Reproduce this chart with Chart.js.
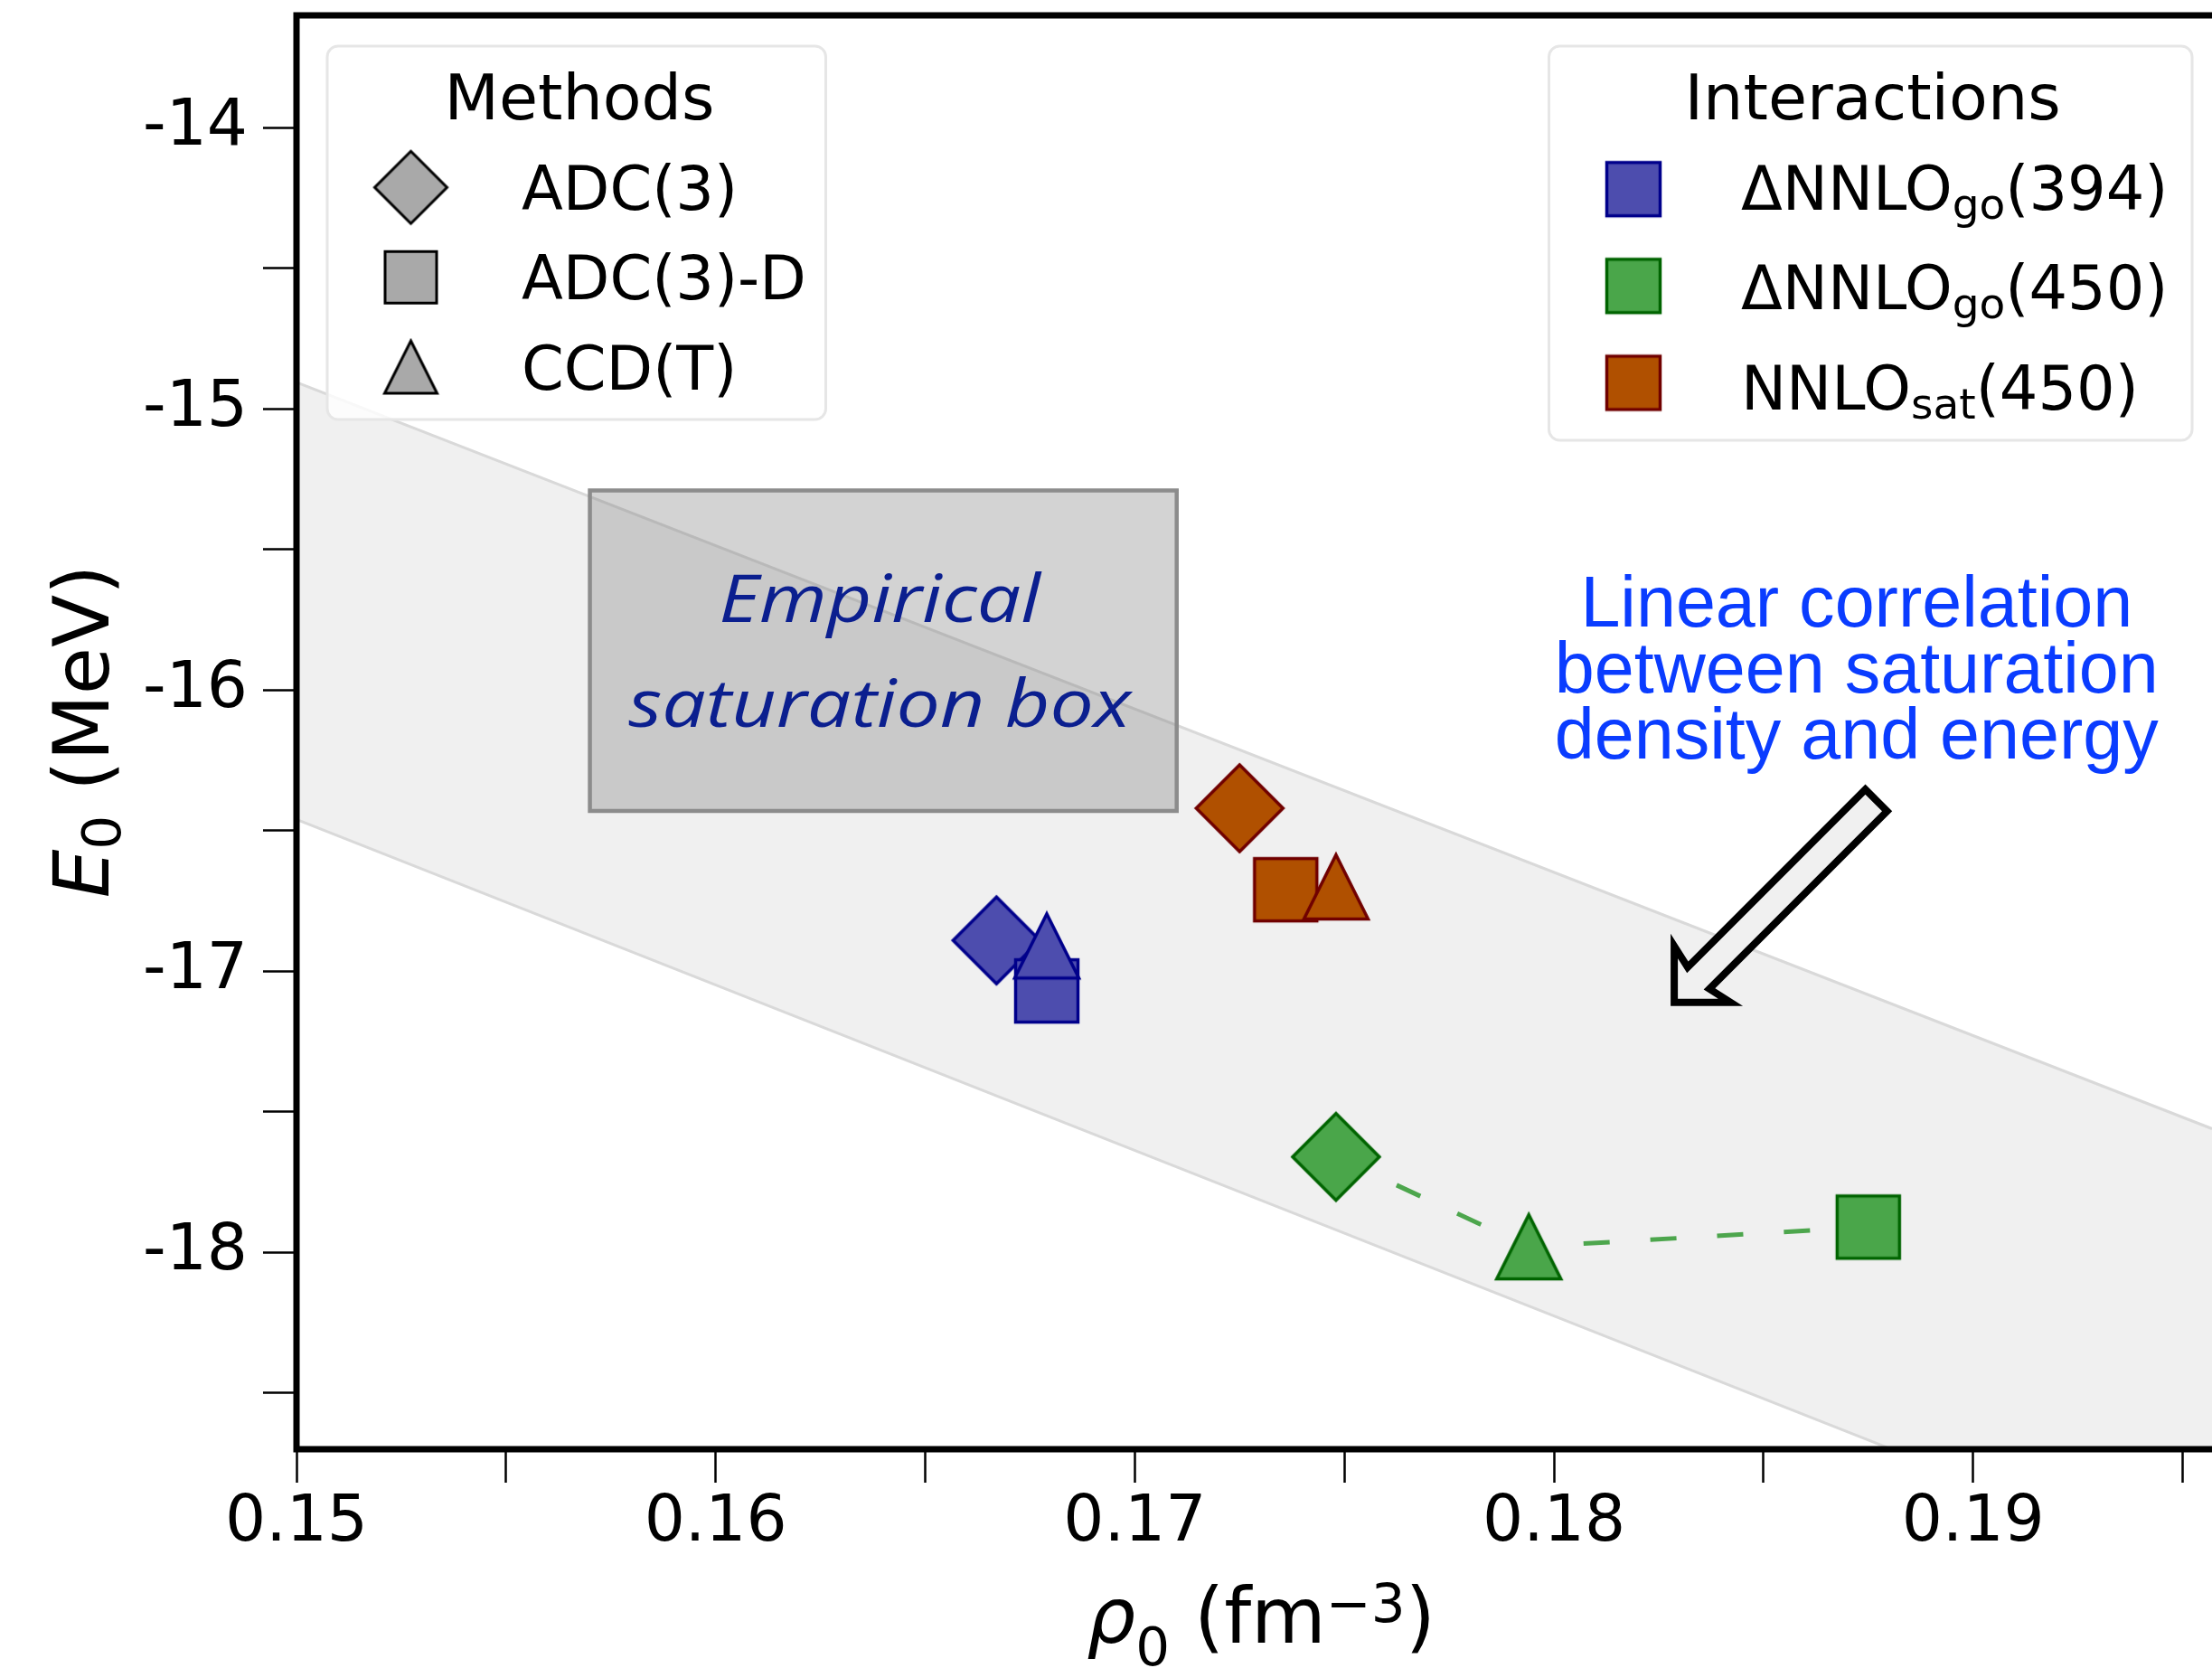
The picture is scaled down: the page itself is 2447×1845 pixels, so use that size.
<!DOCTYPE html>
<html>
<head>
<meta charset="utf-8">
<title>Saturation density vs energy</title>
<script src="https://cdn.jsdelivr.net/npm/chart.js@4.4.1/dist/chart.umd.min.js"></script>
<style>
  html, body { margin: 0; padding: 0; background: #fff; }
  canvas { display: block; }
</style>
</head>
<body>
<canvas id="chart" width="2447" height="1845"></canvas>
<script>
// ---- data ----
// order inside every series: [ΔNNLOgo(394), ΔNNLOgo(450), NNLOsat(450)]
const interactionLabels = [['ΔNNLO', 'go', '(394)'], ['ΔNNLO', 'go', '(450)'], ['NNLO', 'sat', '(450)']];
const methodLabels = ['ADC(3)', 'ADC(3)-D', 'CCD(T)'];

const rhoADC3  = [0.1667, 0.1748, 0.1725];
const eADC3    = [-16.89, -17.66, -16.42];
const rhoADC3D = [0.1679, 0.1875, 0.1736];
const eADC3D   = [-17.07, -17.91, -16.71];
const rhoCCDT  = [0.1679, 0.1794, 0.1748];
const eCCDT    = [-16.91, -17.98, -16.70];

// correlation band (two edges) and empirical box
const bandRho    = [0.15, 0.1957];
const bandUpperE = [-14.905, -17.56];
const bandLowerE = [-16.46, -19.15];
const boxRho = [0.157, 0.171];
const boxE   = [-16.43, -15.29];

// axis ranges
const xRange = [0.15, 0.1957];
const yRange = [-18.70, -13.60];

// ---- styles ----
const fillColors = ['#4d4dae', '#4aa64a', '#b05000'];
const edgeColors = ['#00008b', '#006400', '#700000'];
const FONT = '"DejaVu Sans"';
function font(size, style) { return (style ? style + ' ' : '') + size + 'px ' + FONT; }

function markerCanvas(shape, half, fill, edge, lw) {
  const size = 2 * Math.ceil(half + lw + 3);
  const c = document.createElement('canvas');
  c.width = c.height = size;
  const g = c.getContext('2d');
  const m = size / 2;
  g.beginPath();
  if (shape === 'diamond') {
    g.moveTo(m, m - half); g.lineTo(m + half, m); g.lineTo(m, m + half); g.lineTo(m - half, m);
  } else if (shape === 'square') {
    g.rect(m - half, m - half, 2 * half, 2 * half);
  } else {
    g.moveTo(m, m - half); g.lineTo(m + half, m + half); g.lineTo(m - half, m + half);
  }
  g.closePath();
  g.fillStyle = fill; g.fill();
  g.lineWidth = lw; g.lineJoin = 'miter'; g.strokeStyle = edge; g.stroke();
  return c;
}

const shapes = ['diamond', 'square', 'triangle'];
const plotHalf = { diamond: 48, square: 34.5, triangle: 35.5 };
const legendHalf = { diamond: 40, square: 28.5, triangle: 29 };
const plotMarkers = shapes.map(s => fillColors.map((f, i) => markerCanvas(s, plotHalf[s], f, edgeColors[i], 3.5)));
const methodLegendMarkers = shapes.map(s => markerCanvas(s, legendHalf[s], '#a9a9a9', '#000', 3));
const interLegendMarkers = fillColors.map((f, i) => markerCanvas('square', 29.5, f, edgeColors[i], 3.5));

const pts = (xs, ys) => xs.map((x, i) => ({ x: x, y: ys[i] }));

// green ΔNNLOgo(450) points joined by the dashed line, ordered by density
const greenPath = [
  { x: rhoADC3[1], y: eADC3[1] },
  { x: rhoCCDT[1], y: eCCDT[1] },
  { x: rhoADC3D[1], y: eADC3D[1] }
];

// annotation anchors (data units)
const annot = {
  textCenter: [0.18722, -15.774],
  arrowTip: [0.18287, -17.1105]
};

// ---- extra drawing: spines, legends, titles, annotations ----
function drawRich(ctx, parts, x, y, align) {
  let w = 0;
  parts.forEach(p => { ctx.font = p.font; p.w = ctx.measureText(p.t).width; w += p.w; });
  let cx = align === 'center' ? x - w / 2 : x;
  ctx.textAlign = 'left';
  ctx.textBaseline = 'alphabetic';
  parts.forEach(p => { ctx.font = p.font; ctx.fillText(p.t, cx, y + (p.dy || 0)); cx += p.w; });
}

function legendBox(ctx, x0, y0, x1, y1) {
  ctx.beginPath();
  ctx.roundRect(x0, y0, x1 - x0, y1 - y0, 12);
  ctx.fillStyle = 'rgba(255,255,255,0.8)';
  ctx.fill();
  ctx.lineWidth = 3;
  ctx.strokeStyle = '#e6e6e6';
  ctx.stroke();
}

const decor = {
  id: 'decor',
  afterDraw(chart) {
    const ctx = chart.ctx;
    const area = chart.chartArea;
    const xs = chart.scales.x, ys = chart.scales.y;
    ctx.save();

    // empirical box label
    const bx = (xs.getPixelForValue(boxRho[0]) + xs.getPixelForValue(boxRho[1])) / 2 - 4;
    const bTop = ys.getPixelForValue(boxE[1]);
    ctx.font = 'italic 500 74px "Open Sans"';
    const sBox = 556 / ctx.measureText('saturation box').width;
    ctx.fillStyle = '#0b1f8f';
    ctx.textAlign = 'center';
    ctx.textBaseline = 'alphabetic';
    ctx.save();
    ctx.translate(bx, 0);
    ctx.scale(sBox, 1);
    ctx.fillText('Empirical', 0, bTop + 145);
    ctx.fillText('saturation box', 0, bTop + 261.6);
    ctx.restore();

    // correlation text
    const tx = xs.getPixelForValue(annot.textCenter[0]);
    const ty = ys.getPixelForValue(annot.textCenter[1]);
    ctx.font = '79px "Liberation Sans"';
    const sTxt = 668 / ctx.measureText('between saturation').width;
    ctx.fillStyle = '#0a3cff';
    ctx.save();
    ctx.translate(tx, 0);
    ctx.scale(sTxt, 1);
    ['Linear correlation', 'between saturation', 'density and energy'].forEach((l, i) => {
      ctx.fillText(l, 0, ty + i * 72.8);
    });
    ctx.restore();

    // block arrow
    const ax = xs.getPixelForValue(annot.arrowTip[0]);
    const ay = ys.getPixelForValue(annot.arrowTip[1]);
    const u = [Math.SQRT1_2, -Math.SQRT1_2], v = [Math.SQRT1_2, Math.SQRT1_2];
    const shape = [[0, 0], [44, -44], [38, -17], [316, -17], [316, 17], [38, 17], [44, 44]];
    ctx.beginPath();
    shape.forEach(([a, c], i) => {
      const px = ax + a * u[0] + c * v[0];
      const py = ay + a * u[1] + c * v[1];
      if (i === 0) ctx.moveTo(px, py); else ctx.lineTo(px, py);
    });
    ctx.closePath();
    ctx.fillStyle = '#f0f0f0';
    ctx.fill();
    ctx.lineWidth = 8;
    ctx.lineJoin = 'miter';
    ctx.strokeStyle = '#000';
    ctx.stroke();

    // spines
    ctx.beginPath();
    ctx.moveTo(chart.width + 10, area.top);
    ctx.lineTo(area.left, area.top);
    ctx.lineTo(area.left, area.bottom);
    ctx.lineTo(chart.width + 10, area.bottom);
    ctx.lineWidth = 7;
    ctx.lineJoin = 'miter';
    ctx.strokeStyle = '#000';
    ctx.stroke();

    // Methods legend
    legendBox(ctx, 362, 51, 913.5, 464);
    ctx.fillStyle = '#000';
    ctx.font = font(70);
    ctx.textAlign = 'center';
    ctx.fillText('Methods', 641, 131.7);
    const mY = [207.3, 306.7, 406];
    const mBase = [231.7, 331.2, 430.6];
    methodLabels.forEach((lab, i) => {
      const img = methodLegendMarkers[i];
      ctx.drawImage(img, 454.5 - img.width / 2, mY[i] - img.height / 2);
      ctx.font = font(67);
      ctx.textAlign = 'left';
      ctx.fillStyle = '#000';
      ctx.fillText(lab, 577, mBase[i]);
    });

    // Interactions legend
    legendBox(ctx, 1713.5, 51, 2425, 487);
    ctx.font = font(70);
    ctx.textAlign = 'center';
    ctx.fillStyle = '#000';
    ctx.fillText('Interactions', 2071.6, 131.7);
    const iY = [209.2, 316.3, 423.5];
    const iBase = [232.3, 341.7, 453.3];
    interactionLabels.forEach((lab, i) => {
      const img = interLegendMarkers[i];
      ctx.drawImage(img, 1807 - img.width / 2, iY[i] - img.height / 2);
      ctx.fillStyle = '#000';
      drawRich(ctx, [
        { t: lab[0], font: font(67) },
        { t: lab[1], font: font(47), dy: 10 },
        { t: lab[2], font: font(67) }
      ], 1926, iBase[i], 'left');
    });

    // axis titles
    ctx.fillStyle = '#000';
    drawRich(ctx, [
      { t: 'ρ', font: font(85, 'italic') },
      { t: '0', font: font(59.5), dy: 25 },
      { t: ' (fm', font: font(85) },
      { t: '−3', font: font(59.5), dy: -23 },
      { t: ')', font: font(85) }
    ], 1395, 1816.7, 'center');

    ctx.save();
    ctx.translate(120, 809);
    ctx.rotate(-Math.PI / 2);
    drawRich(ctx, [
      { t: 'E', font: font(85, 'italic') },
      { t: '0', font: font(59.5), dy: 13 },
      { t: ' (MeV)', font: font(85) }
    ], 0, 0, 'center');
    ctx.restore();

    ctx.restore();
  }
};

// ---- chart ----
const ctx = document.getElementById('chart').getContext('2d');
new Chart(ctx, {
  type: 'scatter',
  data: {
    datasets: [
      {
        type: 'line', label: 'band-upper', data: pts(bandRho, bandUpperE),
        borderColor: '#d9d9d9', borderWidth: 3, pointRadius: 0, fill: false, order: 11, clip: 0
      },
      {
        type: 'line', label: 'band-lower', data: pts(bandRho, bandLowerE),
        borderColor: '#d9d9d9', borderWidth: 3, pointRadius: 0, fill: '-1',
        backgroundColor: '#f0f0f0', order: 12, clip: 0
      },
      {
        type: 'line', label: 'box-fill', data: pts(boxRho, [boxE[1], boxE[1]]),
        borderWidth: 0, borderColor: 'rgba(0,0,0,0)', pointRadius: 0,
        fill: { value: boxE[0] }, backgroundColor: 'rgba(120,120,120,0.33)', order: 10
      },
      {
        type: 'line', label: 'box-edge',
        data: pts([boxRho[0], boxRho[1], boxRho[1], boxRho[0], boxRho[0]], [boxE[1], boxE[1], boxE[0], boxE[0], boxE[1]]),
        borderColor: '#8c8c8c', borderWidth: 4.5, borderCapStyle: 'square', pointRadius: 0, fill: false, order: 9
      },
      {
        type: 'line', label: 'ΔNNLOgo(450) trend', data: greenPath,
        borderColor: '#4da64d', borderWidth: 5, borderDash: [29, 45], pointRadius: 0, fill: false, order: 5
      },
      {
        label: methodLabels[0], data: pts(rhoADC3, eADC3),
        pointStyle: c => plotMarkers[0][c.dataIndex], pointRadius: 48, order: 3, clip: false
      },
      {
        label: methodLabels[1], data: pts(rhoADC3D, eADC3D),
        pointStyle: c => plotMarkers[1][c.dataIndex], pointRadius: 36, order: 2, clip: false
      },
      {
        label: methodLabels[2], data: pts(rhoCCDT, eCCDT),
        pointStyle: c => plotMarkers[2][c.dataIndex], pointRadius: 36, order: 1, clip: false
      }
    ]
  },
  options: {
    responsive: false,
    animation: false,
    events: [],
    layout: { padding: { top: 17, right: 0, bottom: 0, left: 0 }, autoPadding: false },
    plugins: { legend: { display: false }, tooltip: { enabled: false } },
    scales: {
      x: {
        type: 'linear', min: xRange[0], max: xRange[1],
        border: { display: false },
        grid: { drawOnChartArea: false, drawTicks: true, tickLength: 37, tickWidth: 2.5, tickColor: '#000' },
        ticks: {
          stepSize: 0.005, includeBounds: false, autoSkip: false, maxRotation: 0, padding: 3,
          color: '#000', font: { family: 'DejaVu Sans', size: 71 },
          callback: v => Math.abs(Math.round(v * 100) - v * 100) < 1e-6 ? v.toFixed(2) : ''
        },
        afterFit: s => { s.height = 242; s.paddingLeft = 0; s.paddingRight = 0; }
      },
      y: {
        type: 'linear', min: yRange[0], max: yRange[1],
        border: { display: false },
        grid: { drawOnChartArea: false, drawTicks: true, tickLength: 37, tickWidth: 2.5, tickColor: '#000' },
        ticks: {
          stepSize: 0.5, includeBounds: false, autoSkip: false, padding: 17,
          color: '#000', font: { family: 'DejaVu Sans', size: 71 },
          callback: v => Math.abs(v - Math.round(v)) < 1e-6 ? String(Math.round(v)) : ''
        },
        afterFit: s => { s.width = 328; s.paddingTop = 0; s.paddingBottom = 0; }
      }
    }
  },
  plugins: [decor]
});
</script>
</body>
</html>
